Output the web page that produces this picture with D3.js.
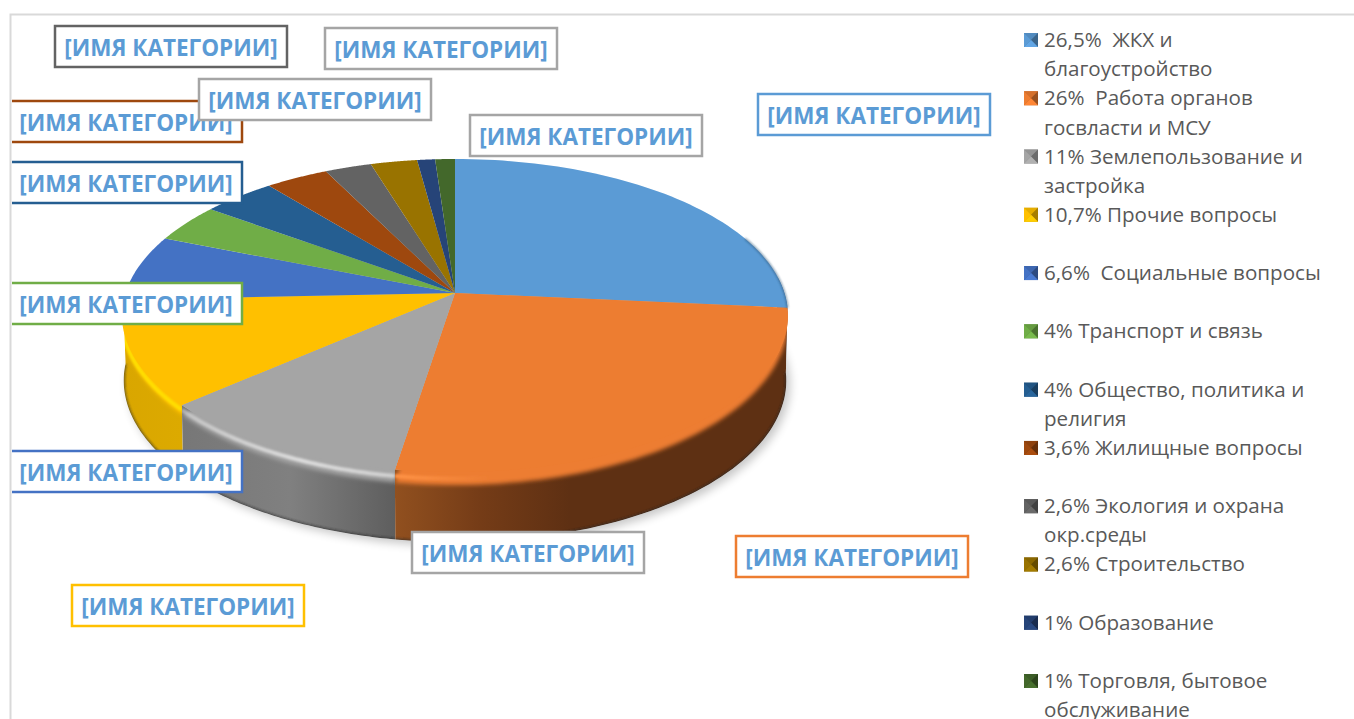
<!DOCTYPE html>
<html>
<head>
<meta charset="utf-8">
<script src="https://cdn.jsdelivr.net/npm/d3@7"></script>
<style>
  html, body { margin: 0; padding: 0; background: #fff; overflow: hidden; }
  svg { display: block; }
  .legend text { font-family: "Open Sans", sans-serif; font-size: 20.6px; fill: #595959; white-space: pre; }
  .tag text { font-family: "Open Sans", sans-serif; font-weight: 700; font-size: 22.5px; fill: #5b9bd5; text-anchor: middle; }
</style>
</head>
<body>
<div id="chart"></div>
<script>
// slice sizes, close to the legend's rounded numbers
var shares = [26.5, 26, 11, 10.8, 6.8, 4, 4.1, 3.5, 2.6, 2.6, 1, 1.1];
var legendLines = [
  ["26,5%  ЖКХ и", "благоустройство"],
  ["26%  Работа органов", "госвласти и МСУ"],
  ["11% Землепользование и", "застройка"],
  ["10,7% Прочие вопросы"],
  ["6,6%  Социальные вопросы"],
  ["4% Транспорт и связь"],
  ["4% Общество, политика и", "религия"],
  ["3,6% Жилищные вопросы"],
  ["2,6% Экология и охрана", "окр.среды"],
  ["2,6% Строительство"],
  ["1% Образование"],
  ["1% Торговля, бытовое", "обслуживание"]
];
var colors = ["#5b9bd5", "#ed7d31", "#a5a5a5", "#ffc000", "#4472c4", "#70ad47",
              "#255e91", "#9e480e", "#636363", "#997300", "#264478", "#43682b"];
var tagText = "[ИМЯ КАТЕГОРИИ]";

// where the data labels were dragged to, in drawing order
var tagBoxes = [
  {x: 758, y: 94,  color: "#5b9bd5"},
  {x: 736, y: 536, color: "#ed7d31"},
  {x: 412, y: 532, color: "#a5a5a5"},
  {x: 72,  y: 585, color: "#ffc000"},
  {x: 10,  y: 451, color: "#4472c4"},
  {x: 10,  y: 283, color: "#70ad47"},
  {x: 10,  y: 162, color: "#255e91"},
  {x: 10,  y: 101, color: "#9e480e"},
  {x: 55,  y: 26,  color: "#636363"},
  {x: 325, y: 28,  color: "#a5a5a5"},
  {x: 199, y: 79,  color: "#a5a5a5"},
  {x: 470, y: 115, color: "#a5a5a5"}
];

var width = 1354, height = 719;
var deg = Math.PI / 180;

// perspective disc: the apex sits above the middle of the ellipse
var cx = 455, cy = 293, rx = 329.5, ry = 153.3, k = 0.144;
var bottomCy = 380, topCy = 315;

function rim(a) {
  var u = Math.sin(a), v = -Math.cos(a), w = 1 - k * v;
  return [cx + rx * u / w, cy + ry * v / w];
}
function bottom(a) {
  var p = rim(a);
  return [cx + (p[0] - cx) * 0.995, bottomCy + (p[1] - topCy) * 162 / 157];
}
function bevel(a, f) {
  var p = rim(a), v = -Math.cos(a);
  return [p[0], p[1] + f * (3 + 10 * Math.max(v, 0))];
}

var line = d3.line();
function arcPoints(a0, a1, fn) {
  return d3.range(0, 61).map(i => fn(a0 + (a1 - a0) * i / 60));
}

var svg = d3.select("#chart").append("svg").attr("width", width).attr("height", height);
var defs = svg.append("defs");

[["blur1", 1], ["blur2", 2.2], ["blur6", 5]].forEach(b => {
  defs.append("filter").attr("id", b[0])
      .attr("x", "-20%").attr("y", "-20%").attr("width", "140%").attr("height", "140%")
    .append("feGaussianBlur").attr("stdDeviation", b[1]);
});

// frame of the chart area, cut off by the screenshot
svg.append("path").attr("d", line([[10.5, height], [10.5, 14.5], [width, 14.5]]))
    .attr("fill", "none").attr("stroke", "#d9d9d9").attr("stroke-width", 2);

var slices = d3.pie().sort(null).value(d => d)(shares);

// soft shadow under the disc
svg.append("path")
    .attr("d", line(arcPoints(0, 2 * Math.PI, a => {
      var p = bottom(a);
      return [p[0] + 4, p[1] + 4];
    })) + "Z")
    .attr("fill", "#000").attr("opacity", 0.22).attr("filter", "url(#blur6)");

// wall shades for the slices that have a visible side
var wallStops = {
  0: [[700, "#2c5273"], [790, "#2c5273"]],
  1: [[395, "#91501f"], [480, "#753c17"], [570, "#5e3013"], [790, "#5e3013"]],
  2: [[182, "#777777"], [290, "#808080"], [395, "#5e5e5e"]],
  3: [[122, "#d9a600"], [182, "#dcaa00"]]
};
var rimGlow = {
  1: {color: "#ff9346", stops: [[395, 1], [490, 0]]},
  2: {color: "#e2e2e2", stops: [[182, 0.5], [300, 0.9], [395, 0.7]]},
  3: {color: "#ffdf00", stops: [[122, 1], [182, 1]]}
};
Object.keys(wallStops).forEach(i => {
  var st = wallStops[i], last = st[st.length - 1][0];
  var g = defs.append("linearGradient").attr("id", "wall" + i)
      .attr("gradientUnits", "userSpaceOnUse")
      .attr("x1", st[0][0]).attr("x2", last).attr("y1", 0).attr("y2", 0);
  var s = d3.scaleLinear().domain([st[0][0], last]).range([0, 1]);
  st.forEach(t => g.append("stop").attr("offset", s(t[0])).attr("stop-color", t[1]));
});
Object.keys(rimGlow).forEach(i => {
  var st = rimGlow[i].stops, last = st[st.length - 1][0];
  var g = defs.append("linearGradient").attr("id", "glow" + i)
      .attr("gradientUnits", "userSpaceOnUse")
      .attr("x1", st[0][0]).attr("x2", last).attr("y1", 0).attr("y2", 0);
  var s = d3.scaleLinear().domain([st[0][0], last]).range([0, 1]);
  st.forEach(t => g.append("stop").attr("offset", s(t[0]))
      .attr("stop-color", rimGlow[i].color).attr("stop-opacity", t[1]));
});

// only the first four slices show a side
var wallFrom = 84 * deg, wallTo = slices[3].endAngle;

function sectorPath(d, fn) {
  return line([[cx, cy]].concat(arcPoints(d.startAngle, d.endAngle, fn))) + "Z";
}

var pie = svg.append("g").attr("class", "pie");

slices.forEach((d, i) => {
  var a0 = Math.max(d.startAngle, wallFrom), a1 = Math.min(d.endAngle, wallTo);
  var hasWall = a1 > a0;
  var g = pie.append("g");

  if (hasWall) {
    var wall = line(arcPoints(a0, a1, rim).concat(arcPoints(a1, a0, bottom))) + "Z";
    var clip = defs.append("clipPath").attr("id", "slice" + i);
    clip.append("path").attr("d", wall);
    clip.append("path").attr("d", sectorPath(d, rim));

    var inner = g.append("g").attr("clip-path", "url(#slice" + i + ")");
    inner.append("path").attr("d", wall).attr("fill", "url(#wall" + i + ")");

    // top colour rolling over the edge
    inner.append("path").attr("d", sectorPath(d, a => bevel(a, 1)))
        .attr("fill", colors[i]).attr("filter", "url(#blur2)");

    if (rimGlow[i]) {
      inner.append("path").attr("d", line(arcPoints(a0, a1, a => bevel(a, 0.5))))
          .attr("fill", "none").attr("stroke", "url(#glow" + i + ")")
          .attr("stroke-width", 4).attr("filter", "url(#blur1)");
    }

    // dark seam at the foot of the wall
    inner.append("path").attr("d", line(arcPoints(a0, a1, bottom)))
        .attr("fill", "none").attr("stroke", "#2b2b2b").attr("stroke-opacity", 0.55)
        .attr("stroke-width", 3).attr("filter", "url(#blur1)");
  }

  g.append("path").attr("d", sectorPath(d, rim)).attr("fill", colors[i]);
});

// shaded edge of the first slice on the right
pie.append("path")
    .attr("d", line(arcPoints(68 * deg, slices[0].endAngle, rim)))
    .attr("fill", "none").attr("stroke", "#2c5273").attr("stroke-width", 1.5)
    .attr("stroke-opacity", 0.75).attr("filter", "url(#blur1)");

// data labels, cut by the frame on the left
defs.append("clipPath").attr("id", "plotClip")
  .append("rect").attr("x", 12).attr("y", 0).attr("width", width).attr("height", height);

var tags = svg.append("g").attr("clip-path", "url(#plotClip)")
  .selectAll("g").data(tagBoxes).join("g")
    .attr("class", "tag")
    .attr("transform", d => "translate(" + d.x + "," + d.y + ")");
tags.append("rect").attr("width", 232).attr("height", 41)
    .attr("fill", "#fff").attr("stroke", d => d.color).attr("stroke-width", 2.5);
tags.append("text").attr("x", 116).attr("y", 30).text(tagText);

// legend
var legendY = d3.scalePoint().domain(d3.range(shares.length)).range([40, 681]);
var linePitch = 29.3, box = 14;

var legend = svg.append("g").attr("class", "legend")
  .selectAll("g").data(legendLines).join("g")
    .attr("transform", (d, i) => "translate(1024," + legendY(i) + ")");

legend.each(function(d, i) {
  var c = d3.color(colors[i]), h = box / 2;
  var g = d3.select(this);
  g.append("rect").attr("y", -h).attr("width", box).attr("height", box).attr("fill", c.darker(0.5));
  var faces = [
    {pts: [[0, -h], [box, -h], [h, 0]], fill: c.darker(0.3)},
    {pts: [[box, -h], [box, h], [h, 0]], fill: c.darker(1.2)},
    {pts: [[box, h], [0, h], [h, 0]], fill: c.brighter(0.2)},
    {pts: [[0, h], [0, -h], [h, 0]], fill: c}
  ];
  faces.forEach(f => g.append("path").attr("d", line(f.pts) + "Z").attr("fill", f.fill));
  g.selectAll("text").data(d).join("text")
      .attr("x", 20)
      .attr("y", (t, j) => 7 + j * linePitch)
      .text(t => t);
});
</script>
</body>
</html>
